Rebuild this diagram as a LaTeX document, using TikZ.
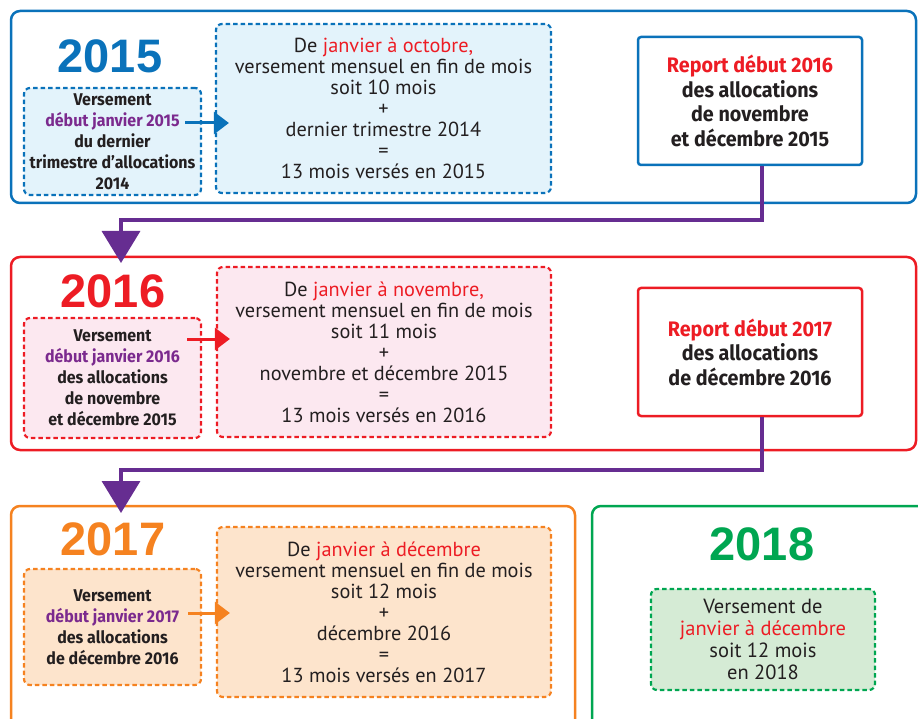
\documentclass[tikz,border=0pt]{standalone}
\usepackage{fontspec}
\setmainfont{PT Sans}
\newfontfamily\dinfont[FakeStretch=0.94]{Fira Sans}
\newfontfamily\yearfont{Liberation Sans}
\usetikzlibrary{arrows.meta}

\definecolor{cblue}{HTML}{0A72BA}
\definecolor{cred}{HTML}{ED1C24}
\definecolor{corange}{HTML}{F58220}
\definecolor{cgreen}{HTML}{00A651}
\definecolor{cpurple}{HTML}{662D91}
\definecolor{cviolet}{HTML}{7B2A8E}
\definecolor{cdark}{HTML}{231F20}
\definecolor{fblue}{HTML}{E3F3FB}
\definecolor{fpink}{HTML}{FCE8F0}
\definecolor{fpeach}{HTML}{FDE4CC}
\definecolor{fgreen}{HTML}{D5EBD5}

\tikzset{
  panel/.style={draw=#1, line width=2.5pt, rounded corners=9pt, inner sep=0pt},
  year/.style={text=#1, inner sep=0pt, font=\yearfont\bfseries\fontsize{47}{47}\selectfont},
  smallbox/.style 2 args={draw=#1, fill=#2, line width=2.2pt, dash pattern=on 4.5pt off 3pt,
    rounded corners=6pt, inner sep=0pt, align=center, text=cdark,
    font=\dinfont\bfseries\fontsize{17}{21}\selectfont},
  bigbox/.style 2 args={draw=#1, fill=#2, line width=2.2pt, dash pattern=on 4.5pt off 3pt,
    rounded corners=6pt, inner sep=0pt, align=center, text=cdark,
    font=\fontsize{20.3}{21}\selectfont},
  reportbox/.style={draw=#1, fill=white, line width=2.5pt, rounded corners=3pt,
    inner sep=0pt, align=center, text=cdark,
    font=\dinfont\bfseries\fontsize{21}{24.5}\selectfont},
  smallarrow/.style={draw=#1, line width=3pt, -{Triangle[length=15pt,width=22pt]}},
  purplelink/.style={draw=cpurple, line width=3.5pt, -{Triangle[length=32pt,width=38pt]}}
}

\begin{document}
\begin{tikzpicture}[x=1pt, y=-1pt]
  \useasboundingbox (0,0) rectangle (918,719);
  \clip (0,0) rectangle (918,719);

  % 1. cadres des annees
  \node[panel=cblue, minimum width=905pt, minimum height=192pt] (p15) at (463.5,107) {};
  \node[panel=cred, minimum width=905pt, minimum height=193pt] (p16) at (463.5,353.5) {};
  \node[panel=corange, minimum width=564pt, minimum height=254pt] (p17) at (293,633) {};
  \node[panel=cgreen, minimum width=358pt, minimum height=254pt] (p18) at (771,633) {};

  % 2. annees
  \node[year=cblue] (y15) at (110,56.5) {2015};
  \node[year=cred] (y16) at (113,291) {2016};
  \node[year=corange] (y17) at (113,539) {2017};
  \node[year=cgreen] (y18) at (762,544) {2018};

  % 3. annee 2015
  \node[smallbox={cblue}{fblue}, minimum width=177pt, minimum height=107pt] (s15) at (112.5,141.5)
    {Versement\\ \textcolor{cviolet}{début janvier 2015}\\ du dernier\\ trimestre d’allocations\\ 2014};
  \node[bigbox={cblue}{fblue}, minimum width=335pt, minimum height=169pt] (b15) at (383.5,108.5)
    {De \textcolor{cred}{janvier à octobre,}\\ versement mensuel en fin de mois\\ soit 10 mois\\ +\\
     dernier trimestre 2014\\ =\\ 13 mois versés en 2015};
  \node[reportbox=cblue, minimum width=224pt, minimum height=128pt] (r15) at (750,101)
    {\textcolor{cred}{Report début 2016}\\ des allocations\\ de novembre\\ et décembre 2015};

  % 4. annee 2016
  \node[smallbox={cred}{fpink}, minimum width=177pt, minimum height=120pt] (s16) at (112.5,378)
    {Versement\\ \textcolor{cviolet}{début janvier 2016}\\ des allocations\\ de novembre\\ et décembre 2015};
  \node[bigbox={cred}{fpink}, minimum width=334pt, minimum height=170pt] (b16) at (384,352)
    {De \textcolor{cred}{janvier à novembre,}\\ versement mensuel en fin de mois\\ soit 11 mois\\ +\\
     novembre et décembre 2015\\ =\\ 13 mois versés en 2016};
  \node[reportbox=cred, minimum width=224pt, minimum height=128pt] (r16) at (750,352)
    {\textcolor{cred}{Report début 2017}\\ des allocations\\ de décembre 2016};

  % 5. annee 2017
  \node[smallbox={corange}{fpeach}, minimum width=177pt, minimum height=116pt] (s17) at (112.5,627)
    {Versement\\ \textcolor{cviolet}{début janvier 2017}\\ des allocations\\ de décembre 2016};
  \node[bigbox={corange}{fpeach}, minimum width=334pt, minimum height=170pt] (b17) at (384,612)
    {De \textcolor{cred}{janvier à décembre}\\ versement mensuel en fin de mois\\ soit 12 mois\\ +\\
     décembre 2016\\ =\\ 13 mois versés en 2017};

  % 6. annee 2018
  \node[bigbox={cgreen}{fgreen}, minimum width=224pt, minimum height=101pt,
        font=\fontsize{20.5}{22}\selectfont] (g18) at (763,639.5)
    {Versement de\\ \textcolor{cred}{janvier à décembre}\\ soit 12 mois\\ en 2018};

  % 7. fleches internes
  \coordinate (a15) at (185,123);
  \coordinate (a16) at (187,339);
  \coordinate (a17) at (188,613);
  \draw[smallarrow=cblue] (a15) -- ([xshift=14pt]a15 -| b15.west);
  \draw[smallarrow=cred] (a16) -- ([xshift=14pt]a16 -| b16.west);
  \draw[smallarrow=corange] (a17) -- ([xshift=14pt]a17 -| b17.west);

  % 8. reports vers l'annee suivante
  \coordinate (j15) at (121,220);
  \coordinate (d16) at (121,263);
  \coordinate (j16) at (121,470);
  \coordinate (d17) at (121,513);
  \draw[purplelink] ([xshift=12pt]r15.south) |- (j15) -- (d16);
  \draw[purplelink] ([xshift=12pt]r16.south) |- (j16) -- (d17);

\end{tikzpicture}
\end{document}
